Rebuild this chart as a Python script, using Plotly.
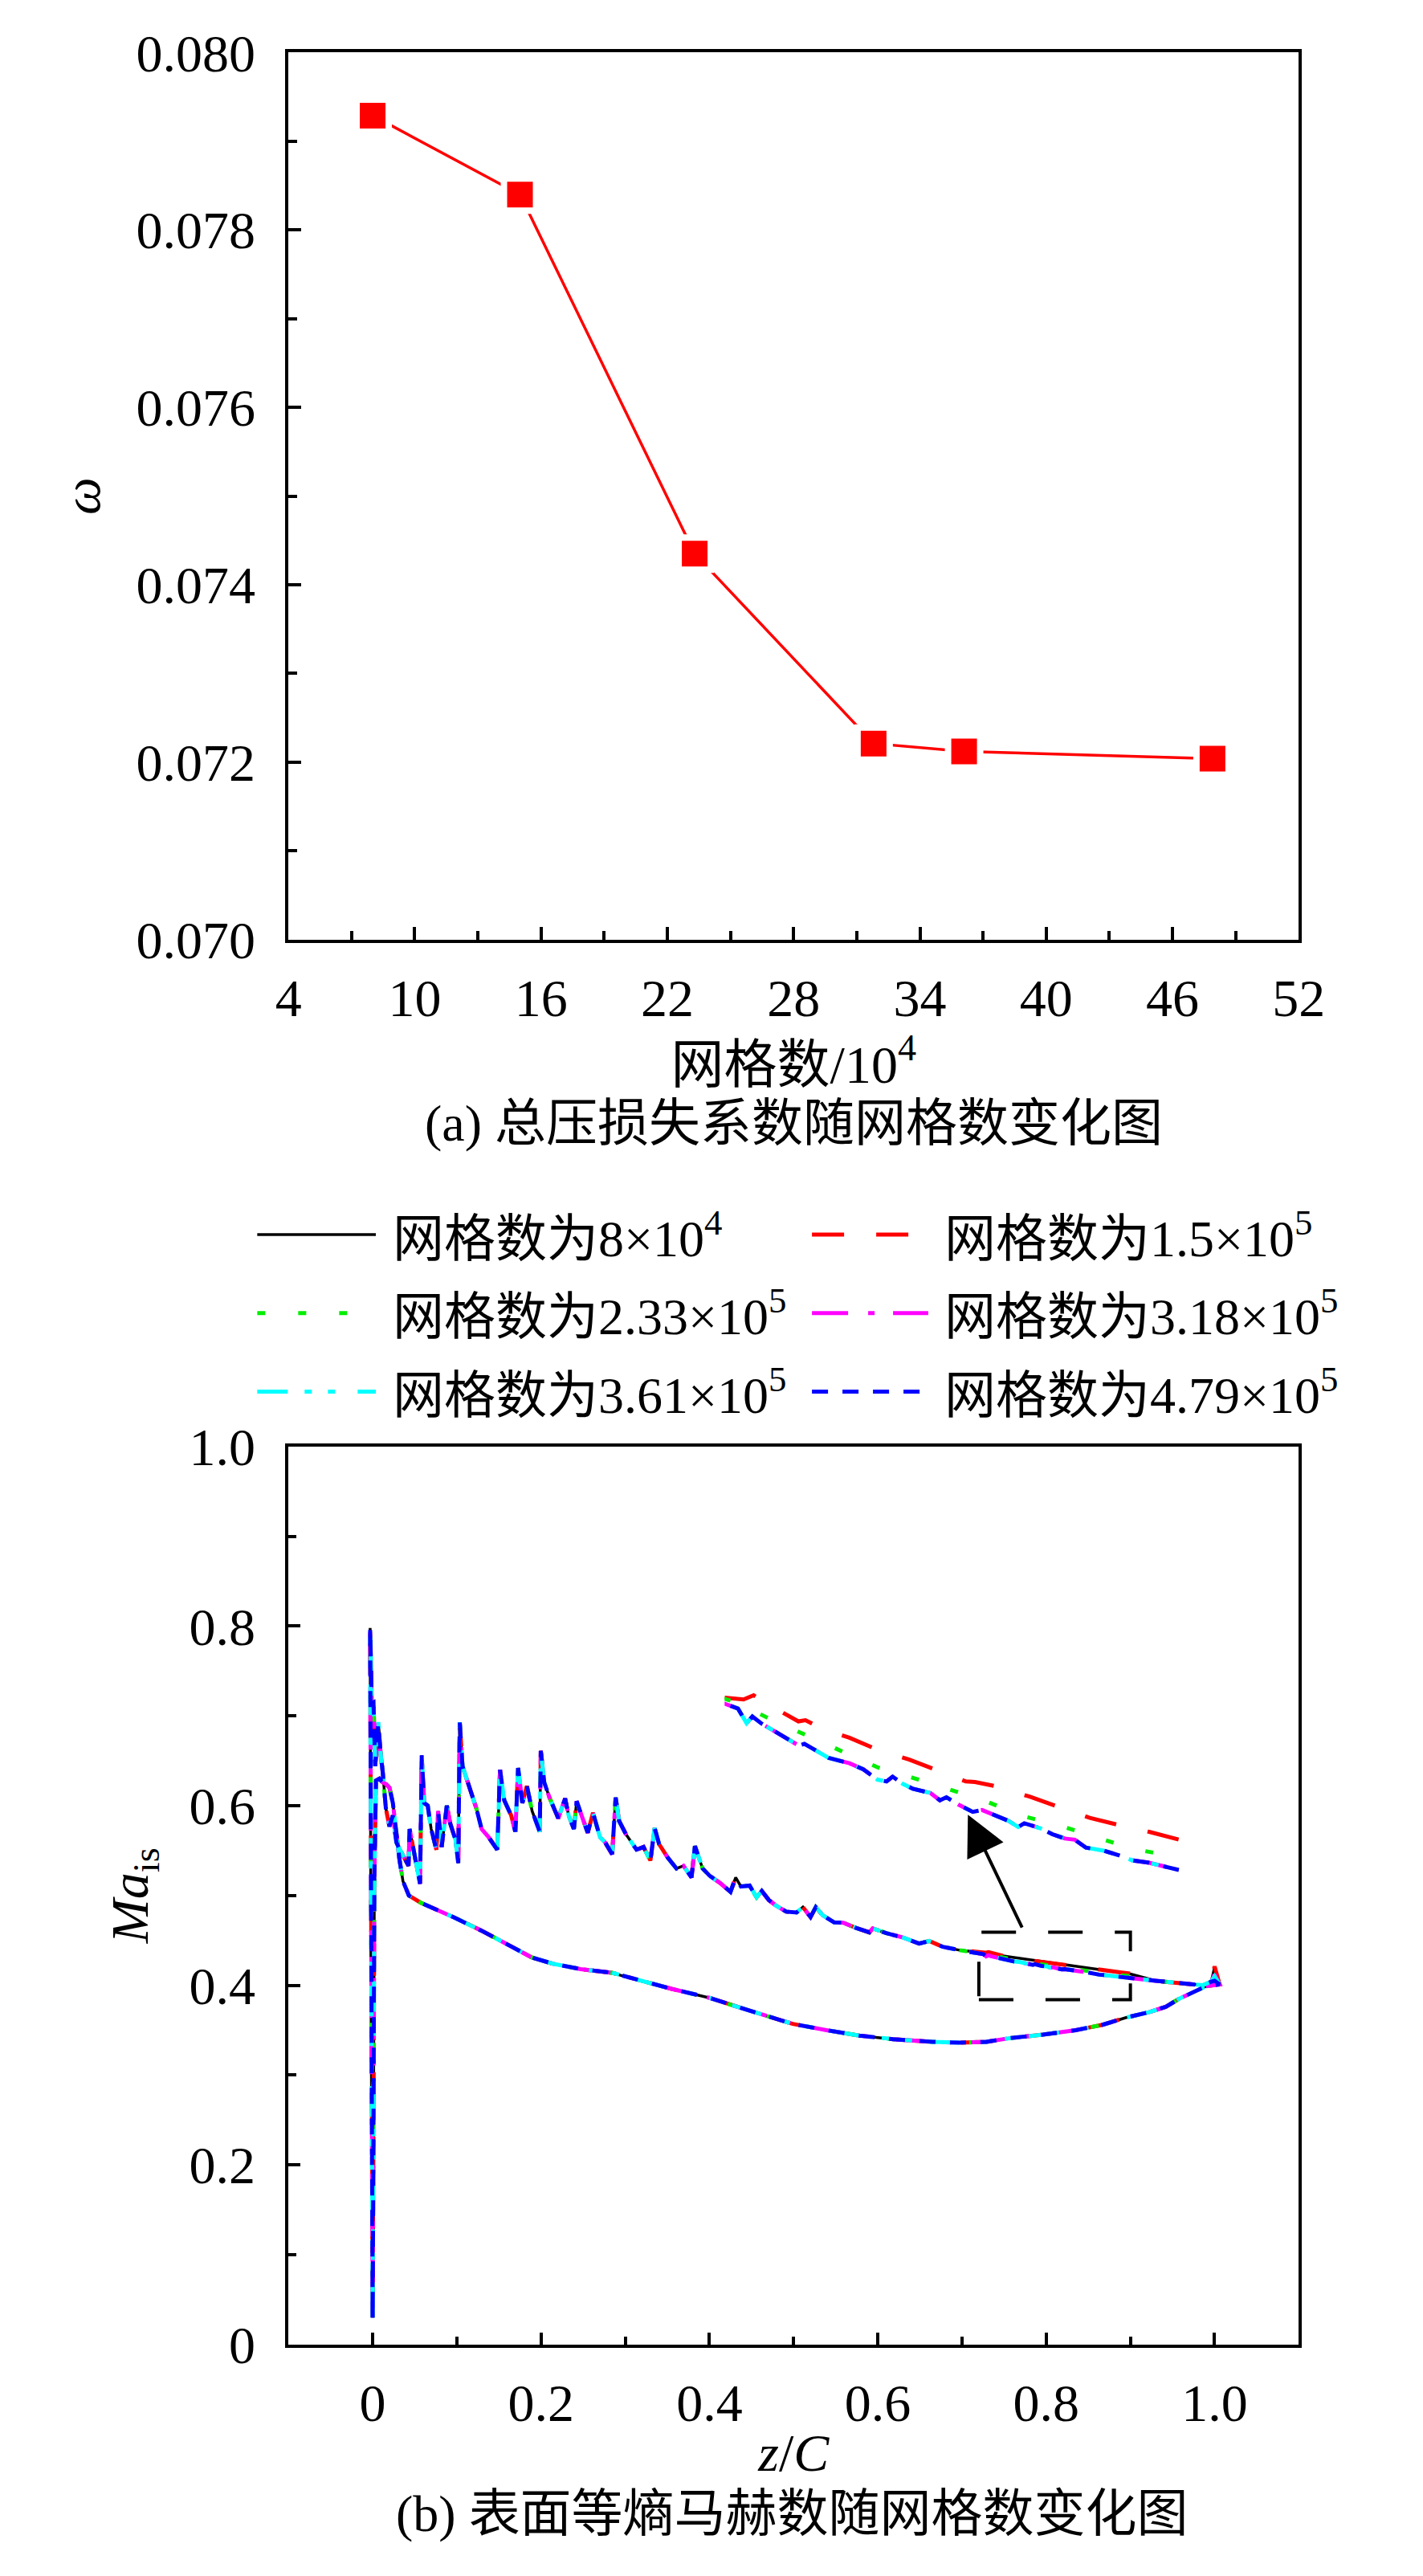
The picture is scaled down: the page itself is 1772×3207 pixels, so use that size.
import plotly.graph_objects as go

# ---------------- (a) total pressure loss coefficient vs grid count ----------------
grid_count = [8, 15, 23.3, 31.8, 36.1, 47.9]          # x 10^4
omega = [0.07929, 0.07840, 0.07435, 0.07221, 0.07212, 0.07204]

# ---------------- (b) surface isentropic Mach number ----------------
# suction side, leading edge -> z/C = 0.70 (all grids practically identical here)
z_ss = [0.000, -0.002, -0.003, -0.001, 0.001, 0.003, 0.0067, 0.0096, 0.0116, 0.0157,
        0.0199, 0.0240, 0.0282, 0.0323, 0.0426, 0.0439, 0.0488, 0.0563, 0.0583, 0.0612,
        0.0654, 0.0695, 0.0757, 0.0778, 0.0819, 0.0881, 0.0922, 0.0984, 0.1017, 0.1034,
        0.1067, 0.1150, 0.1232, 0.1294, 0.1377, 0.1480, 0.1513, 0.1563, 0.1646, 0.1695,
        0.1728, 0.1778, 0.1832, 0.1894, 0.1956, 0.1985, 0.1997, 0.2038, 0.2100, 0.2204,
        0.2286, 0.2328, 0.2390, 0.2423, 0.2493, 0.2555, 0.2617, 0.2700, 0.2762, 0.2845,
        0.2886, 0.2927, 0.3010, 0.3134, 0.3217, 0.3299, 0.3349, 0.3403, 0.3506, 0.3609,
        0.3692, 0.3787, 0.3828, 0.3919, 0.4002, 0.4126, 0.4250, 0.4312, 0.4374, 0.4477,
        0.4560, 0.4622, 0.4705, 0.4787, 0.4911, 0.5035, 0.5110, 0.5201, 0.5263, 0.5345,
        0.5482, 0.5590, 0.5740, 0.5900, 0.5940, 0.6100, 0.6300, 0.6490, 0.6610, 0.6770,
        0.6970]
ma_ss = [0.030, 0.400, 0.798, 0.714, 0.715, 0.644, 0.693, 0.656, 0.641, 0.597,
         0.577, 0.589, 0.559, 0.551, 0.533, 0.574, 0.551, 0.513, 0.656, 0.603,
         0.600, 0.574, 0.551, 0.594, 0.554, 0.600, 0.580, 0.562, 0.536, 0.693,
         0.644, 0.621, 0.597, 0.574, 0.565, 0.551, 0.640, 0.606, 0.589, 0.571,
         0.642, 0.603, 0.622, 0.594, 0.577, 0.571, 0.661, 0.626, 0.609, 0.586,
         0.608, 0.589, 0.574, 0.605, 0.586, 0.570, 0.592, 0.565, 0.559, 0.546,
         0.609, 0.583, 0.568, 0.551, 0.554, 0.539, 0.575, 0.557, 0.542, 0.530,
         0.533, 0.520, 0.555, 0.530, 0.522, 0.514, 0.504, 0.520, 0.510, 0.511,
         0.498, 0.505, 0.495, 0.489, 0.482, 0.481, 0.487, 0.476, 0.487, 0.478,
         0.470, 0.4697, 0.4639, 0.4589, 0.4633, 0.4581, 0.4531, 0.4464, 0.4493, 0.4429,
         0.4391]

# suction side inside the zoom window (differs per grid)
z_box_black = [0.720, 0.760, 0.800, 0.840, 0.880, 0.900]
ma_box_black = [0.4368, 0.4312, 0.4258, 0.4205, 0.4150, 0.4125]
z_box_red = [0.7200, 0.7275, 0.7315, 0.7380, 0.7492, 0.7520, 0.7585, 0.7694, 0.7807, 0.7931,
             0.8044, 0.8155, 0.8191, 0.8274, 0.8407, 0.8512, 0.8645, 0.8763, 0.8880, 0.9000]
ma_box_red = [0.4365, 0.4362, 0.4369, 0.4352, 0.4326, 0.4328, 0.4314, 0.4299, 0.4279, 0.4263,
              0.4244, 0.4227, 0.4226, 0.4219, 0.4202, 0.4186, 0.4167, 0.4155, 0.4144, 0.4131]
z_box_green = [0.7200, 0.7250, 0.7374, 0.7521, 0.7654, 0.7807, 0.7945, 0.8092, 0.8225, 0.8371,
               0.8512, 0.8659, 0.8813, 0.8974]
ma_box_green = [0.4362, 0.4357, 0.4331, 0.4304, 0.4279, 0.4250, 0.4233, 0.4214, 0.4196, 0.4171,
                0.4156, 0.4137, 0.4116, 0.4104]
z_box_fine = [0.7200, 0.7253, 0.7287, 0.7310, 0.7344, 0.7387, 0.7444, 0.7494, 0.7516, 0.7582,
              0.7611, 0.7694, 0.7749, 0.7805, 0.7841, 0.7865, 0.7905, 0.7945, 0.8015, 0.8052,
              0.8078, 0.8125, 0.8182, 0.8219, 0.8254, 0.8324, 0.8362, 0.8386, 0.8449, 0.8498,
              0.8547, 0.8586, 0.8630, 0.8700, 0.8756, 0.8813, 0.8880, 0.8937, 0.8994]
ma_box_fine = [0.4356, 0.4347, 0.4323, 0.4334, 0.4323, 0.4312, 0.4298, 0.4286, 0.4289, 0.4273,
               0.4266, 0.4257, 0.4247, 0.4230, 0.4227, 0.4235, 0.4223, 0.4215, 0.4208, 0.4196,
               0.4201, 0.4189, 0.4177, 0.4180, 0.4174, 0.4162, 0.4152, 0.4158, 0.4150, 0.4140,
               0.4133, 0.4131, 0.4118, 0.4113, 0.4106, 0.4097, 0.4093, 0.4087, 0.4081]

# suction side near the trailing edge, then trailing-edge peak per grid
z_te = [0.930, 0.954, 0.986, 0.996]
ma_te = [0.4050, 0.4027, 0.4000, 0.4040]
te_peak = [0.420, 0.421, 0.416, 0.412, 0.410, 0.405]

# pressure side, leading edge -> trailing edge
z_ps = [0.000, 0.001, 0.002, 0.004, 0.008, 0.012, 0.016, 0.020, 0.024, 0.028,
        0.032, 0.036, 0.043, 0.057, 0.074, 0.098, 0.131, 0.165, 0.189, 0.214,
        0.247, 0.284, 0.313, 0.355, 0.400, 0.450, 0.499, 0.539, 0.578, 0.618,
        0.665, 0.697, 0.729, 0.756, 0.796, 0.835, 0.867, 0.895, 0.922, 0.942,
        0.958, 0.974, 0.990, 1.006]
ma_ps = [0.030, 0.250, 0.520, 0.628, 0.630, 0.626, 0.624, 0.620, 0.603, 0.568,
         0.539, 0.516, 0.500, 0.492, 0.485, 0.475, 0.460, 0.443, 0.431, 0.424,
         0.418, 0.414, 0.406, 0.396, 0.386, 0.371, 0.357, 0.350, 0.344, 0.340,
         0.337, 0.336, 0.337, 0.341, 0.345, 0.350, 0.356, 0.364, 0.370, 0.376,
         0.385, 0.392, 0.399, 0.401]

series_names = ["网格数为8×10<sup>4</sup>", "网格数为1.5×10<sup>5</sup>",
                "网格数为2.33×10<sup>5</sup>", "网格数为3.18×10<sup>5</sup>",
                "网格数为3.61×10<sup>5</sup>", "网格数为4.79×10<sup>5</sup>"]
box_z = [z_box_black, z_box_red, z_box_green, z_box_fine, z_box_fine, z_box_fine]
box_ma = [ma_box_black, ma_box_red, ma_box_green, ma_box_fine, ma_box_fine, ma_box_fine]

# zoom window (box) drawn enlarged in the inset
zoom_z = [0.72, 0.90]
zoom_ma = [0.384, 0.459]

x_ticks_b = [0, 0.2, 0.4, 0.6, 0.8, 1.0]
x_labels_b = ["0", "0.2", "0.4", "0.6", "0.8", "1.0"]
y_ticks_b = [0, 0.2, 0.4, 0.6, 0.8, 1.0]
y_labels_b = ["0", "0.2", "0.4", "0.6", "0.8", "1.0"]

colors = ["#000000", "#FF0000", "#00EE00", "#FF00FF", "#00FFFF", "#0000FF"]
dashes = ["solid", "40px,40px", "10px,41px", "45px,25px,8px,23px",
          "38px,21px,9px,20px,9px,28px", "20px,18px"]
widths = [3.5, 5, 5, 5, 5, 5]

# ---------------- page geometry (pixels of the 1772 x 3207 page, 8 px body margin) ----------------
W, H, OFF = 1756, 3191, 8


def xp(px):
    return (px - OFF) / W


def yp(py):
    return 1 - (py - OFF) / H


FONT = "Liberation Serif, Times New Roman, Noto Sans CJK SC"
FS = 66

fig = go.Figure()

fig.add_trace(go.Scatter(
    x=grid_count, y=omega, mode="lines+markers", xaxis="x", yaxis="y",
    line=dict(color="#FF0000", width=3.5),
    marker=dict(symbol="square", size=40, color="#FF0000", line=dict(color="white", width=8)),
    showlegend=False))

for i, name in enumerate(series_names):
    zz = z_ss + box_z[i] + z_te + [1.000] + z_ps[::-1]
    mm = ma_ss + box_ma[i] + ma_te + [te_peak[i]] + ma_ps[::-1]
    fig.add_trace(go.Scatter(
        x=zz, y=mm, mode="lines", name=name, xaxis="x2", yaxis="y2",
        line=dict(color=colors[i], width=widths[i], dash=dashes[i]), showlegend=False))

# enlarged view of the boxed region (no black curve in the inset)
for i, name in enumerate(series_names):
    if i == 0:
        continue
    zz = z_ss + box_z[i] + z_te
    mm = ma_ss + box_ma[i] + ma_te
    fig.add_trace(go.Scatter(
        x=zz, y=mm, mode="lines", name=name, xaxis="x3", yaxis="y3",
        line=dict(color=colors[i], width=widths[i], dash=dashes[i]), showlegend=False))

ax = dict(showline=True, linewidth=4, linecolor="black", mirror=True,
          ticks="inside", ticklen=16, tickwidth=4, tickcolor="black",
          showgrid=False, zeroline=False,
          tickfont=dict(family=FONT, size=FS, color="black"))

fig.update_layout(
    width=W, height=H,
    margin=dict(l=0, r=0, t=0, b=0),
    paper_bgcolor="white", plot_bgcolor="rgba(0,0,0,0)",
    font=dict(family=FONT, size=FS, color="black"),
    xaxis=dict(ax, domain=[xp(352), xp(1647)], range=[4, 52], anchor="y",
               tickmode="linear", tick0=4, dtick=6, ticklabelstandoff=12,
               minor=dict(ticks="inside", ticklen=11, tickwidth=4, tickcolor="black", tick0=4, dtick=3),
               title=dict(text="网格数/10<sup>4</sup>", standoff=0, font=dict(size=FS))),
    yaxis=dict(ax, domain=[yp(1160), yp(30)], range=[0.070, 0.080], anchor="x",
               tickmode="linear", tick0=0.070, dtick=0.002, tickformat=".3f", ticklabelstandoff=24,
               minor=dict(ticks="inside", ticklen=11, tickwidth=4, tickcolor="black", tick0=0.070, dtick=0.001),
               title=dict(text="<i>ω</i>", standoff=24, font=dict(size=FS))),
    xaxis2=dict(ax, domain=[xp(352), xp(1647)], range=[-0.1, 1.1], anchor="y2",
                tickmode="array", tickvals=x_ticks_b, ticktext=x_labels_b, ticklen=15, ticklabelstandoff=12,
                minor=dict(ticks="inside", ticklen=10, tickwidth=4, tickcolor="black", tick0=0, dtick=0.1),
                title=dict(text="<i>z</i>/<i>C</i>", standoff=4, font=dict(size=FS))),
    yaxis2=dict(ax, domain=[yp(2950), yp(1806)], range=[0, 1.0], anchor="x2",
                tickmode="array", tickvals=y_ticks_b, ticktext=y_labels_b, ticklen=15, ticklabelstandoff=24,
                minor=dict(ticks="inside", ticklen=10, tickwidth=4, tickcolor="black", tick0=0, dtick=0.1),
                title=dict(text="<i>Ma</i><sub>is</sub>", standoff=30, font=dict(size=FS))),
    xaxis3=dict(domain=[xp(911), xp(1494)], range=zoom_z, anchor="y3", visible=False),
    yaxis3=dict(domain=[yp(2532), yp(1952)], range=zoom_ma, anchor="x3", visible=False),
)

# zoom box and arrow to the enlarged view
fig.add_shape(type="rect", xref="x2", yref="y2",
              x0=zoom_z[0], x1=zoom_z[1], y0=zoom_ma[0], y1=zoom_ma[1],
              line=dict(color="black", width=4, dash="43px,40px"))
fig.add_annotation(xref="x2", yref="y2", axref="x2", ayref="y2",
                   x=0.707, y=0.590, ax=0.772, ay=0.463, text="",
                   showarrow=True, arrowhead=2, arrowsize=2.5, arrowwidth=4, arrowcolor="black", standoff=0)

# legend drawn as line samples + labels (two columns, three rows)
leg_rows = [1536, 1636, 1736]
leg_cols = [(312, 464, 484), (1023, 1172, 1191)]
for i, name in enumerate(series_names):
    r, c = divmod(i, 2)
    x0, x1, xt = leg_cols[c]
    y = yp(leg_rows[r])
    fig.add_shape(type="line", xref="paper", yref="paper", x0=xp(x0), x1=xp(x1), y0=y, y1=y,
                  line=dict(color=colors[i], width=widths[i], dash=dashes[i]))
    fig.add_annotation(xref="paper", yref="paper", x=xp(xt), y=y, xanchor="left", yanchor="middle",
                       text=name, showarrow=False, font=dict(family=FONT, size=64, color="black"))

# sub-figure captions
fig.add_annotation(xref="paper", yref="paper", x=xp(1000), y=yp(1394), xanchor="center", yanchor="middle",
                   text="(a) 总压损失系数随网格数变化图", showarrow=False, font=dict(family=FONT, size=64))
fig.add_annotation(xref="paper", yref="paper", x=xp(998), y=yp(3166), xanchor="center", yanchor="middle",
                   text="(b) 表面等熵马赫数随网格数变化图", showarrow=False, font=dict(family=FONT, size=64))

fig.write_html("out.html")
